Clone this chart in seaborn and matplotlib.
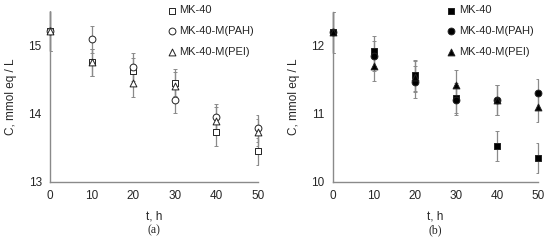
import pandas as pd
import matplotlib.pyplot as plt
import seaborn as sns

# Data
t = [0, 10, 20, 30, 40, 50]
samples = ['MK-40', 'MK-40-M(PAH)', 'MK-40-M(PEI)']

# panel (a)
a_mk40 = [15.22, 14.76, 14.63, 14.46, 13.73, 13.45]
a_pah = [15.22, 15.10, 14.69, 14.21, 13.95, 13.79]
a_pei = [15.22, 14.76, 14.45, 14.41, 13.90, 13.73]
a_err = [0.30, 0.20, 0.20, 0.20, 0.20, 0.20]

# panel (b)
b_mk40 = [12.20, 11.92, 11.57, 11.23, 10.52, 10.35]
b_pah = [12.20, 11.85, 11.47, 11.20, 11.20, 11.30]
b_pei = [12.20, 11.70, 11.55, 11.42, 11.20, 11.10]
b_err = [0.30, 0.22, 0.23, 0.22, 0.22, 0.22]

markers = {'MK-40': 's', 'MK-40-M(PAH)': 'o', 'MK-40-M(PEI)': '^'}

sns.set_style('white')
plt.rcParams['font.family'] = ['Liberation Sans', 'DejaVu Sans']

fig = plt.figure(figsize=(5.5, 2.41), dpi=100)
ax_a = fig.add_axes([0.091, 0.246, 0.378, 0.704])
ax_b = fig.add_axes([0.605, 0.246, 0.373, 0.704])

panels = [
    (ax_a, [a_mk40, a_pah, a_pei], a_err, 'white', (13, 15.5), [13, 14, 15], '(a)'),
    (ax_b, [b_mk40, b_pah, b_pei], b_err, 'black', (10, 12.5), [10, 11, 12], '(b)'),
]

for ax, series, err, face, ylim, yticks, tag in panels:
    for name, vals in zip(samples, series):
        ax.errorbar(t, vals, yerr=err, fmt='none', ecolor='#8a8a8a',
                    elinewidth=0.9, capsize=1.5, capthick=0.7, zorder=1)
    for name, vals in zip(samples, series):
        df = pd.DataFrame({'t': t, 'C': vals})
        sns.scatterplot(data=df, x='t', y='C', marker=markers[name], s=24,
                        facecolor=face, edgecolor='#222222', linewidth=0.7,
                        label=name, ax=ax, zorder=3)
    ax.set_xlim(0, 50)
    ax.set_ylim(*ylim)
    ax.set_xticks(t)
    ax.set_yticks(yticks)
    ax.set_xlabel('t, h', fontsize=8.5, labelpad=6)
    ax.set_ylabel('C, mmol eq / L', fontsize=8.5, labelpad=8)
    ax.tick_params(axis='both', labelsize=8.5, width=0.8,
                   color='#8a8a8a', pad=4)
    ax.tick_params(axis='x', direction='inout', length=4)
    ax.tick_params(axis='y', direction='inout', length=4)
    for side in ['top', 'right']:
        ax.spines[side].set_visible(False)
    for side in ['left', 'bottom']:
        ax.spines[side].set_color('#8a8a8a')
        ax.spines[side].set_linewidth(1.0)
    for c in ax.collections:
        c.set_clip_on(False)
    ax.legend(loc='upper right', bbox_to_anchor=(1.0, 1.065), frameon=False,
              fontsize=8, handletextpad=0.05, labelspacing=0.95,
              handlelength=1.2, borderaxespad=0)
    pos = ax.get_position()
    fig.text((pos.x0 + pos.x1) / 2, 0.02, tag, ha='center', va='bottom',
             fontsize=8.5, family=['Liberation Serif', 'DejaVu Serif'])

fig.savefig('out.png', dpi=100)
